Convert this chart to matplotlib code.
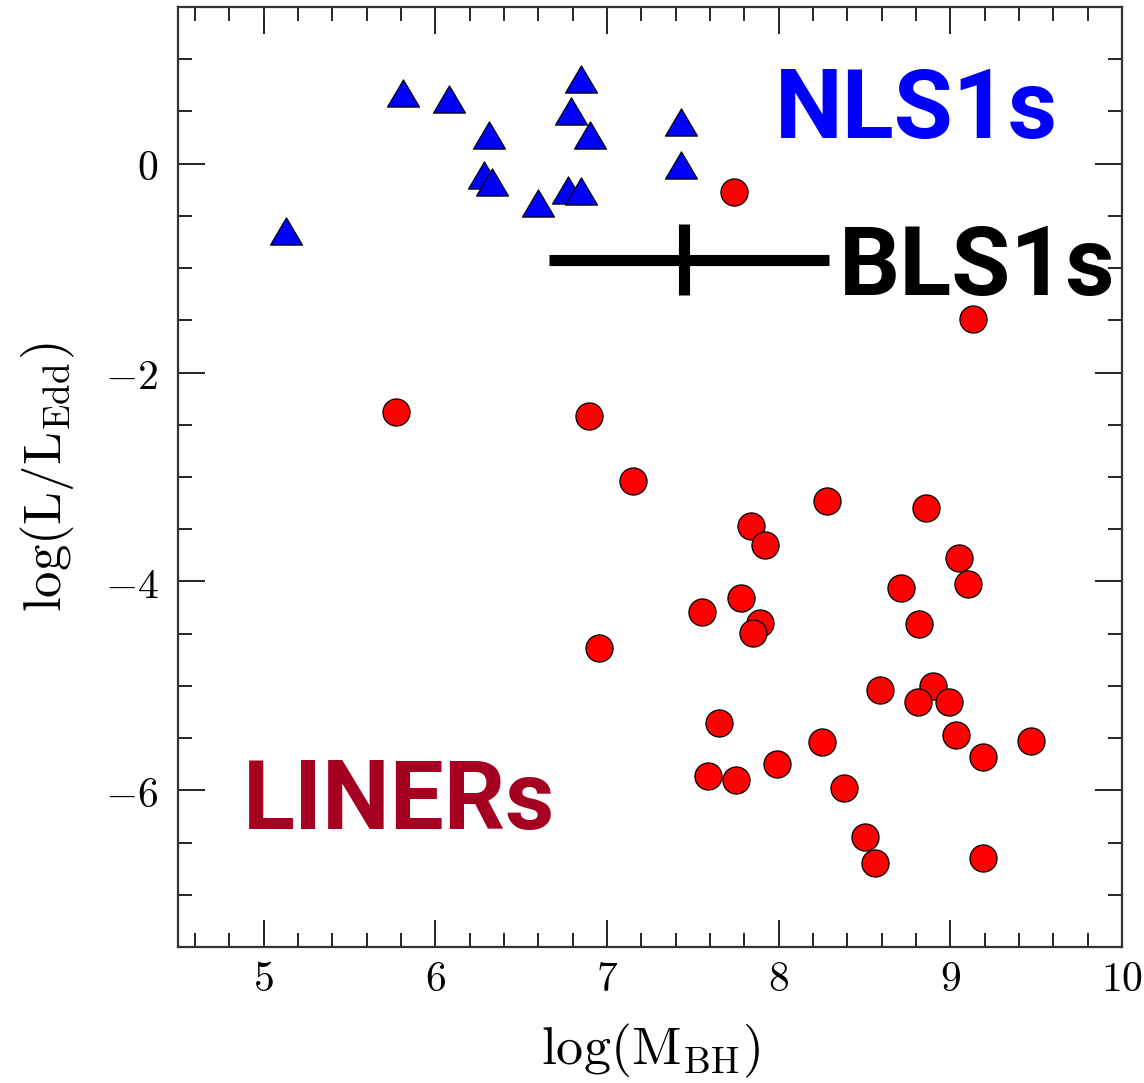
import matplotlib
matplotlib.use("Agg")
import matplotlib.pyplot as plt
from matplotlib.ticker import MultipleLocator, FuncFormatter
from matplotlib.path import Path

plt.rcParams["mathtext.fontset"] = "cm"

# NLS1s (triangles)
nls1_mbh = [5.13, 5.81, 6.08, 6.31, 6.28, 6.33, 6.60, 6.77, 6.85, 6.85, 6.79, 6.90, 7.43, 7.43]
nls1_edd = [-0.64, 0.68, 0.62, 0.27, -0.11, -0.18, -0.38, -0.25, -0.26, 0.81, 0.50, 0.27, 0.40, -0.01]

# LINERs (circles)
liner_mbh = [7.74, 9.13, 5.77, 6.895, 7.15, 8.28, 7.84, 7.92, 8.86, 9.05,
             9.10, 8.71, 7.78, 7.55, 7.89, 7.85, 8.82, 6.95, 8.59, 8.90,
             8.81, 8.99, 7.65, 9.03, 8.25, 9.47, 9.19, 7.59, 7.75, 7.99,
             8.38, 8.50, 8.56, 9.19]
liner_edd = [-0.27, -1.49, -2.38, -2.42, -3.04, -3.23, -3.47, -3.65, -3.30, -3.78,
             -4.02, -4.06, -4.16, -4.29, -4.40, -4.49, -4.41, -4.64, -5.04, -5.00,
             -5.15, -5.15, -5.36, -5.47, -5.54, -5.53, -5.68, -5.86, -5.90, -5.75,
             -5.98, -6.45, -6.70, -6.65]

# BLS1s typical location with spread
bls1_mbh = 7.45
bls1_edd = -0.92
bls1_xerr = [[0.79], [0.84]]
bls1_yerr = 0.34

fig = plt.figure(figsize=(11.44, 10.83), dpi=100)
ax = fig.add_axes([0.1556, 0.1256, 0.8252, 0.8679])

tri = Path([(0, 0.85), (-1, -0.85), (1, -0.85), (0, 0.85)],
           [Path.MOVETO, Path.LINETO, Path.LINETO, Path.CLOSEPOLY])

ax.plot(nls1_mbh, nls1_edd, linestyle="none", marker=tri, markersize=23,
        markerfacecolor="#0000ff", markeredgecolor="black", markeredgewidth=0.9)
ax.plot(liner_mbh, liner_edd, linestyle="none", marker="o", markersize=19.5,
        markerfacecolor="#ff0000", markeredgecolor="black", markeredgewidth=0.9)
ax.errorbar(bls1_mbh, bls1_edd, xerr=bls1_xerr, yerr=bls1_yerr, fmt="none",
            ecolor="black", elinewidth=8, capsize=0)

txt = dict(family="Roboto", fontweight="bold", fontsize=69, ha="left", va="baseline")
ax.text(7.98, 0.25, "NLS1s", color="#0000ff", **txt)
ax.text(8.35, -1.26, "BLS1s", color="black", **txt)
ax.text(4.88, -6.37, "LINERs", color="#a50021", **txt)

ax.set_xlim(4.5, 10)
ax.set_ylim(-7.5, 1.5)
ax.xaxis.set_major_locator(MultipleLocator(1))
ax.xaxis.set_minor_locator(MultipleLocator(0.2))
ax.yaxis.set_major_locator(MultipleLocator(2))
ax.yaxis.set_minor_locator(MultipleLocator(0.5))
ax.xaxis.set_major_formatter(FuncFormatter(lambda v, p: r"$%d$" % round(v)))
ax.yaxis.set_major_formatter(FuncFormatter(lambda v, p: r"$%d$" % round(v)))

ax.tick_params(which="both", direction="in", top=True, right=True, width=1.2, colors="black")
ax.tick_params(which="major", length=19.5, labelsize=30)
ax.tick_params(which="minor", length=10)
ax.tick_params(axis="x", which="major", pad=8)
ax.tick_params(axis="y", which="major", pad=14)
for s in ax.spines.values():
    s.set_linewidth(1.6)
    s.set_color("#333333")

ax.set_xlabel(r"$\log(\mathrm{M_{BH}})$", fontsize=39, labelpad=16)
ax.set_ylabel(r"$\log(\mathrm{L/L_{Edd}})$", fontsize=38, labelpad=20)

fig.savefig("out.png", dpi=100)
